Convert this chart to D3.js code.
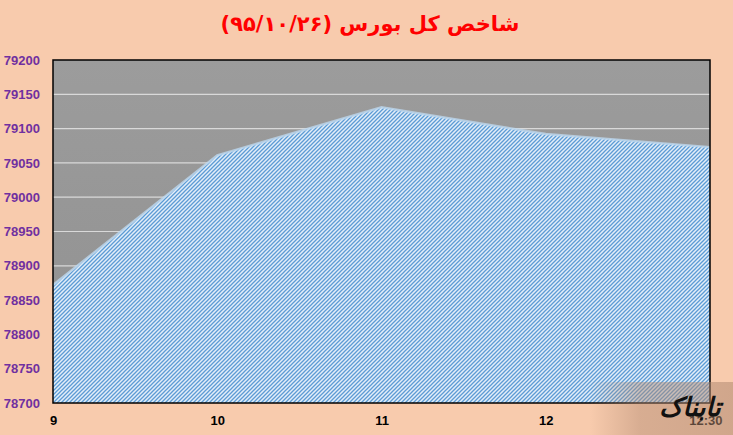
<!DOCTYPE html>
<html><head><meta charset="utf-8">
<script src="https://cdn.jsdelivr.net/npm/d3@7"></script>
<style>body{margin:0;background:#F8CBAD;}svg{display:block;}</style>
</head><body>
<script>
const categories = ["9", "10", "11", "12", "12:30"];
const values = [78872, 79061, 79131, 79092, 79073];
const yTicks = [78700, 78750, 78800, 78850, 78900, 78950, 79000, 79050, 79100, 79150, 79200];
const title = "شاخص کل بورس (۹۵/۱۰/۲۶)";

const W = 733, H = 435;
const m = {left: 53, right: 23, top: 60, bottom: 32};
const svg = d3.select("body").append("svg").attr("width", W).attr("height", H);
svg.append("rect").attr("width", W).attr("height", H).attr("fill", "#F8CBAD");

const defs = svg.append("defs");
const g1 = defs.append("linearGradient").attr("id", "bg").attr("x1", 0).attr("y1", 0).attr("x2", 0).attr("y2", 1);
g1.append("stop").attr("offset", "0%").attr("stop-color", "#9c9c9c");
g1.append("stop").attr("offset", "100%").attr("stop-color", "#909090");
const pat = defs.append("pattern").attr("id", "hatch").attr("patternUnits", "userSpaceOnUse")
  .attr("width", 4).attr("height", 4);
pat.append("rect").attr("width", 4).attr("height", 4).attr("fill", "#E3EEF9");
pat.append("path").attr("d", "M-1,1 l2,-2 M0,4 l4,-4 M3,5 l2,-2").attr("stroke", "#5B9BD5").attr("stroke-width", 1.3);
const lg = defs.append("linearGradient").attr("id", "logo").attr("x1", 0).attr("y1", 0).attr("x2", 1).attr("y2", 0);
lg.append("stop").attr("offset", "0%").attr("stop-color", "#b08870").attr("stop-opacity", 0);
lg.append("stop").attr("offset", "35%").attr("stop-color", "#b08870").attr("stop-opacity", 0.45);
lg.append("stop").attr("offset", "100%").attr("stop-color", "#b08870").attr("stop-opacity", 0.55);

const x = d3.scalePoint().domain(categories).range([m.left, W - m.right]);
const y = d3.scaleLinear().domain([78700, 79200]).range([H - m.bottom, m.top]);

svg.append("rect").attr("x", m.left).attr("y", m.top)
  .attr("width", W - m.right - m.left).attr("height", H - m.bottom - m.top).attr("fill", "url(#bg)");

svg.append("g").selectAll("line").data(yTicks.slice(1, -1)).join("line")
  .attr("x1", m.left).attr("x2", W - m.right).attr("y1", d => y(d)).attr("y2", d => y(d))
  .attr("stroke", "#d9d9d9").attr("stroke-width", 1.2);

const data = categories.map((c, i) => ({c, v: values[i]}));
const area = d3.area().x(d => x(d.c)).y0(y(78700)).y1(d => y(d.v));
const line = d3.line().x(d => x(d.c)).y(d => y(d.v));
svg.append("path").datum(data).attr("d", area).attr("fill", "url(#hatch)");
svg.append("path").datum(data).attr("d", line).attr("fill", "none")
  .attr("stroke", "#BDD7EE").attr("stroke-width", 2.5).attr("stroke-opacity", 0.8);

svg.append("rect").attr("x", m.left).attr("y", m.top)
  .attr("width", W - m.right - m.left).attr("height", H - m.bottom - m.top)
  .attr("fill", "none").attr("stroke", "#000").attr("stroke-width", 1.5);

const yAxis = d3.axisLeft(y).tickValues(yTicks).tickFormat(d3.format("d")).tickSize(0).tickPadding(13);
const ya = svg.append("g").attr("transform", `translate(${m.left},0)`).call(yAxis);
ya.select(".domain").remove();
ya.selectAll("text").attr("fill", "#7030A0").attr("font-family", "Liberation Sans, Arial, sans-serif")
  .attr("font-size", 13).attr("font-weight", "bold");

const xAxis = d3.axisBottom(x).tickSize(0).tickPadding(13);
const xa = svg.append("g").attr("transform", `translate(0,${H - m.bottom})`).call(xAxis);
xa.select(".domain").remove();
xa.selectAll("text").attr("fill", "#000").attr("font-family", "Liberation Sans, Arial, sans-serif")
  .attr("font-size", 13).attr("font-weight", "bold");
xa.selectAll(".tick").filter(d => d === "12:30").select("text").attr("text-anchor", "end").attr("dx", 12);

svg.append("text").attr("x", 370).attr("y", 31).attr("text-anchor", "middle")
  .attr("fill", "#FF0000").attr("font-family", "DejaVu Sans, sans-serif").attr("font-weight", "bold")
  .attr("font-size", 21).attr("direction", "rtl").text(title);

// watermark
svg.append("rect").attr("x", 590).attr("y", 382).attr("width", 143).attr("height", 53).attr("fill", "url(#logo)");
svg.append("text").attr("x", 690).attr("y", 416).attr("text-anchor", "middle")
  .attr("font-family", "DejaVu Sans, sans-serif").attr("font-weight", "bold").attr("font-style", "italic")
  .attr("font-size", 26).attr("fill", "#111").attr("direction", "rtl").text("تابناک");
</script>
</body></html>
